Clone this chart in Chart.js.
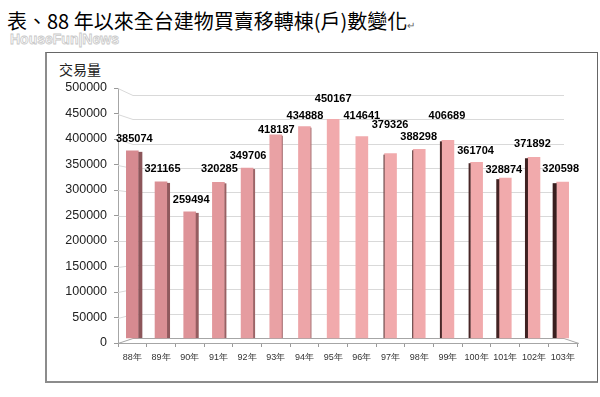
<!DOCTYPE html>
<html>
<head>
<meta charset="utf-8">
<script src="https://cdn.jsdelivr.net/npm/chart.js@4"></script>
<style>
html, body { margin: 0; padding: 0; background: #fff; }
body { width: 600px; height: 397px; position: relative; overflow: hidden; }
#title { position: absolute; left: 7px; top: 6px; font: 20px "Noto Sans CJK TC"; color: #000; white-space: nowrap; }
#title span { font-size: 10px; color: #666; }
#mark { position: absolute; left: 10px; top: 31px; font: bold 14px "Liberation Sans"; color: #fff; -webkit-text-stroke: 0.8px #c8c8c8; white-space: nowrap; }
#frame { position: absolute; left: 45px; top: 52px; width: 550px; height: 328px; border: 1px solid #666; border-left: 2px solid #8c8c8c; border-bottom: 2px solid #8c8c8c; }
#ytitle { position: absolute; left: 59px; top: 59px; font: 14px "Noto Sans CJK TC"; color: #222; }
#myChart { position: absolute; left: 0; top: 0; }
</style>
</head>
<body>
<div id="title">表、88 年以來全台建物買賣移轉棟(戶)數變化<span>↵</span></div>
<div id="mark">HouseFun|News</div>
<div id="frame"></div>
<div id="ytitle">交易量</div>
<canvas id="myChart" width="600" height="397"></canvas>
<script>
// 年度與買賣移轉棟(戶)數
var years = ["88年", "89年", "90年", "91年", "92年", "93年", "94年", "95年",
             "96年", "97年", "98年", "99年", "100年", "101年", "102年", "103年"];
var deals = [385074, 321165, 259494, 320285, 349706, 418187, 434888, 450167,
             414641, 379326, 388298, 406689, 361704, 328874, 371892, 320598];
var yTickValues = [0, 50000, 100000, 150000, 200000, 250000, 300000, 350000, 400000, 450000, 500000];

// how far each value label sits above its bar (px), as placed in the original
var labelLift = [12, 13, 12, 13, 12, 5, 11, 20, 21, 29, 12, 24, 11, 8, 13, 13];

function mix(a, b, t) {
    return 'rgb(' + a.map(function (v, k) { return Math.round(v + (b[k] - v) * t); }).join(',') + ')';
}

// fake 3D: back wall grid, floor, bar sides and value labels
var wall3d = {
    id: 'wall3d',
    beforeDatasetsDraw: function (chart) {
        var c = chart.ctx, a = chart.chartArea, yf = chart.scales.y, yb = chart.scales.yb;
        c.save();
        c.lineWidth = 1;
        yTickValues.forEach(function (v) {
            var p = Math.round(yf.getPixelForValue(v)) + 0.5;
            var q = Math.round(yb.getPixelForValue(v)) + 0.5;
            c.strokeStyle = v === 0 ? '#a6a6a6' : '#d9d9d9';
            c.beginPath();
            c.moveTo(a.left, p);
            c.lineTo(a.left + 15, q);
            c.lineTo(a.right - 13, q);
            if (v === 0) c.lineTo(a.right + 2, p);
            c.stroke();
        });
        c.restore();
    },
    afterDatasetsDraw: function (chart) {
        var c = chart.ctx, meta = chart.getDatasetMeta(0);
        c.save();
        meta.data.forEach(function (bar, i) {
            var t = (i - 7.5) / 7.5;
            var w = Math.round(Math.abs(t) * 4);
            var half = bar.width / 2;
            var h = bar.base - bar.y - 1;
            if (t < 0) {
                c.fillStyle = mix([140, 86, 90], [170, 110, 112], (i) / 7);
                c.fillRect(bar.x + half, bar.y + 1, w, h);
            } else {
                c.fillStyle = mix([90, 48, 48], [58, 30, 30], (i - 8) / 7);
                c.fillRect(bar.x - half - w, bar.y + 1, w, h);
            }
            c.font = 'bold 11px "Liberation Sans"';
            c.fillStyle = '#000';
            c.textAlign = 'center';
            c.textBaseline = 'middle';
            var lx = bar.x + (t < 0 ? w / 2 : -w / 2);
            c.fillText(String(deals[i]), lx, bar.y - labelLift[i]);
        });
        c.restore();
    }
};

var ctx = document.getElementById("myChart").getContext('2d');
var myChart = new Chart(ctx, {
    type: 'bar',
    data: {
        labels: years,
        datasets: [{
            label: "交易量",
            data: deals,
            yAxisID: 'yb',
            barThickness: 12,
            backgroundColor: function (c) {
                return mix([214, 138, 144], [241, 170, 172], Math.min(c.dataIndex / 7, 1));
            },
            borderWidth: 0
        }]
    },
    options: {
        responsive: false,
        animation: false,
        events: [],
        layout: { padding: { top: 88, right: 23, bottom: 0, left: 0 } },
        plugins: { legend: { display: false }, tooltip: { enabled: false } },
        scales: {
            x: {
                grid: { drawOnChartArea: false, tickLength: 4, color: '#999', offset: true },
                border: { color: '#a6a6a6' },
                ticks: { font: { size: 9, family: 'Liberation Sans' }, color: '#333', padding: 5,
                         maxRotation: 0, autoSkip: false },
                afterFit: function (s) { s.height = 54; }
            },
            y: {
                min: 0,
                max: 500000,
                afterBuildTicks: function (s) {
                    s.ticks = yTickValues.map(function (v) { return { value: v }; });
                },
                grid: { drawOnChartArea: false, tickLength: 4, color: '#999' },
                border: { color: '#a6a6a6' },
                ticks: { font: { size: 12.5, family: 'Liberation Sans' }, color: '#222', padding: 7,
                         callback: function (v) { return String(v); } },
                afterFit: function (s) { s.width = 118; }
            },
            // back wall of the 3D box: bars are measured against it
            yb: { display: false, min: -10300, max: 514400 }
        }
    },
    plugins: [wall3d]
});
</script>
</body>
</html>
